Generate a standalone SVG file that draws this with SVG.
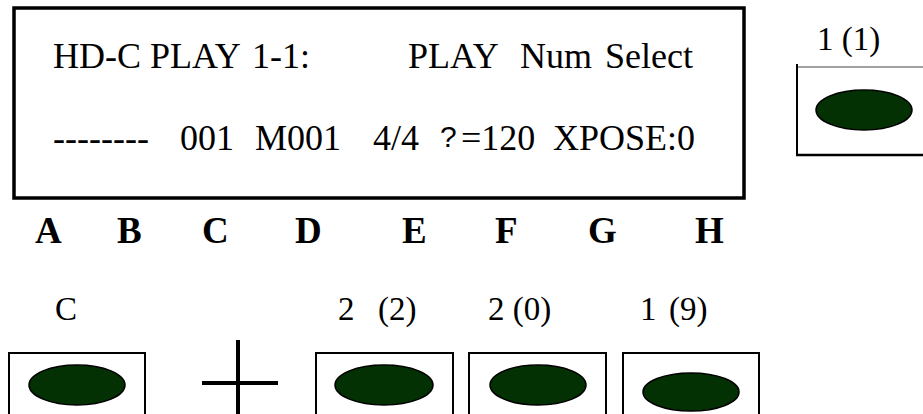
<svg xmlns="http://www.w3.org/2000/svg" width="923" height="414" viewBox="0 0 923 414">
<style>
.lcd{font-size:36px;fill:#000}
.key{font-size:37px;font-weight:bold;fill:#000}
.lbl{font-size:33px;fill:#000}
.q{font-size:30px;fill:#000}
.box{fill:#fff;stroke:#000;stroke-width:2}
.btn{fill:#033103;stroke:#000;stroke-width:1.5}
</style>
<rect width="923" height="414" fill="#fff"/>
<g id="display" font-family="'Liberation Serif', 'Times New Roman', Tinos, 'DejaVu Serif', serif">
<rect x="14" y="8" width="730" height="190" fill="none" stroke="#000" stroke-width="3.5"/>
<text class="lcd" y="68"><tspan x="53">HD-C</tspan><tspan x="150">PLAY</tspan><tspan x="252">1-1:</tspan><tspan x="408">PLAY</tspan><tspan x="520">Num</tspan><tspan x="605">Select</tspan></text>
<text class="lcd" y="150"><tspan x="53">--------</tspan><tspan x="180">001</tspan><tspan x="255">M001</tspan><tspan x="373">4/4</tspan></text>
<text class="q" x="440" y="147" font-family="'Liberation Sans', Arial, sans-serif">?</text>
<text class="lcd" y="150"><tspan x="461">=120</tspan><tspan x="553">XPOSE:0</tspan></text>
</g>
<g id="key-letters" font-family="'Liberation Serif', 'Times New Roman', Tinos, 'DejaVu Serif', serif">
<text class="key" x="35" y="243">A</text>
<text class="key" x="117" y="243">B</text>
<text class="key" x="202" y="243">C</text>
<text class="key" x="295" y="243">D</text>
<text class="key" x="402" y="243">E</text>
<text class="key" x="495" y="243">F</text>
<text class="key" x="588" y="243">G</text>
<text class="key" x="695" y="243">H</text>
</g>
<g id="button-top-right" font-family="'Liberation Serif', 'Times New Roman', Tinos, 'DejaVu Serif', serif">
<text class="lbl" x="817" y="50">1 (1)</text>
<line x1="797" y1="67" x2="923" y2="67" stroke="#444" stroke-width="1"/>
<line x1="797" y1="64" x2="797" y2="156" stroke="#000" stroke-width="2"/>
<line x1="796" y1="155" x2="923" y2="155" stroke="#000" stroke-width="2.5"/>
<ellipse class="btn" cx="864" cy="110" rx="48" ry="20"/>
</g>
<g id="button-c" font-family="'Liberation Serif', 'Times New Roman', Tinos, 'DejaVu Serif', serif">
<text class="lbl" x="55" y="320">C</text>
<rect class="box" x="9" y="353" width="136" height="70"/>
<ellipse class="btn" cx="77" cy="385" rx="48" ry="20"/>
</g>
<g id="plus">
<line x1="238" y1="340" x2="238" y2="414" stroke="#000" stroke-width="4"/>
<line x1="202" y1="383" x2="278" y2="383" stroke="#000" stroke-width="4"/>
</g>
<g id="button-2-2" font-family="'Liberation Serif', 'Times New Roman', Tinos, 'DejaVu Serif', serif">
<text class="lbl" y="320"><tspan x="338">2</tspan><tspan x="378">(2)</tspan></text>
<rect class="box" x="316" y="353" width="137" height="70"/>
<ellipse class="btn" cx="384" cy="385" rx="49" ry="20"/>
</g>
<g id="button-2-0" font-family="'Liberation Serif', 'Times New Roman', Tinos, 'DejaVu Serif', serif">
<text class="lbl" x="488" y="320">2 (0)</text>
<rect class="box" x="469" y="353" width="137" height="70"/>
<ellipse class="btn" cx="538" cy="385" rx="48" ry="20"/>
</g>
<g id="button-1-9" font-family="'Liberation Serif', 'Times New Roman', Tinos, 'DejaVu Serif', serif">
<text class="lbl" y="320"><tspan x="640">1</tspan><tspan x="669">(9)</tspan></text>
<rect class="box" x="623" y="353" width="136" height="70"/>
<ellipse class="btn" cx="691" cy="392" rx="48" ry="19"/>
</g>
</svg>
